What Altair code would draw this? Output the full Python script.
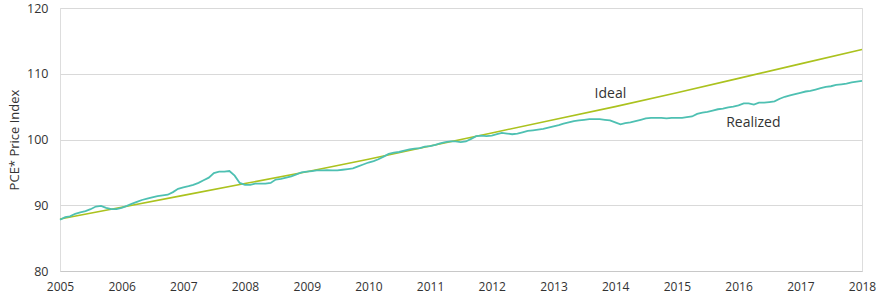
import altair as alt
import pandas as pd

# Realized PCE price index, monthly Jan 2005 .. Jan 2018
realized = [
    87.8, 88.2, 88.3, 88.7, 88.9, 89.1, 89.4, 89.8, 89.9, 89.6, 89.4, 89.4,   # 2005
    89.6, 89.9, 90.2, 90.5, 90.8, 91.0, 91.2, 91.4, 91.5, 91.6, 92.0, 92.5,   # 2006
    92.7, 92.9, 93.1, 93.4, 93.8, 94.2, 94.9, 95.1, 95.1, 95.2, 94.5, 93.4,   # 2007
    93.1, 93.1, 93.3, 93.3, 93.3, 93.4, 93.9, 94.0, 94.2, 94.4, 94.7, 95.0,   # 2008
    95.1, 95.2, 95.3, 95.3, 95.35, 95.3, 95.3, 95.4, 95.5, 95.6, 95.9, 96.2,  # 2009
    96.5, 96.7, 97.0, 97.4, 97.8, 98.0, 98.1, 98.3, 98.5, 98.6, 98.7, 98.9,   # 2010
    99.0, 99.2, 99.4, 99.6, 99.7, 99.7, 99.6, 99.7, 100.1, 100.5, 100.6, 100.5,  # 2011
    100.6, 100.8, 101.0, 100.9, 100.8, 100.9, 101.1, 101.3, 101.4, 101.5, 101.6, 101.8,  # 2012
    102.0, 102.2, 102.4, 102.6, 102.8, 102.9, 103.0, 103.1, 103.1, 103.1, 103.0, 102.9,  # 2013
    102.6, 102.3, 102.5, 102.6, 102.8, 103.0, 103.2, 103.3, 103.3, 103.3, 103.2, 103.3,  # 2014
    103.3, 103.3, 103.4, 103.5, 103.9, 104.1, 104.2, 104.4, 104.6, 104.7, 104.9, 105.0,  # 2015
    105.2, 105.5, 105.5, 105.3, 105.6, 105.6, 105.7, 105.8, 106.2, 106.5, 106.7, 106.9,  # 2016
    107.1, 107.3, 107.4, 107.6, 107.8, 108.0, 108.1, 108.3, 108.4, 108.5, 108.7, 108.8,  # 2017
    108.9,  # Jan 2018
]

# Ideal path (yearly readings, Jan of each year)
ideal_years = [2005, 2006, 2007, 2008, 2009, 2010, 2011, 2012, 2013, 2014, 2015, 2016, 2017, 2018]
ideal = [87.9, 89.7, 91.5, 93.3, 95.1, 97.0, 99.0, 101.0, 103.0, 105.0, 107.1, 109.3, 111.5, 113.7]

labels = ["Ideal", "Realized"]
label_dates = ["2013-09-01", "2015-10-20"]
label_values = [106.9, 102.5]

year_ticks = list(range(2005, 2019))

real_df = pd.DataFrame({
    "date": pd.date_range("2005-01-01", periods=len(realized), freq="MS"),
    "value": realized,
})
ideal_df = pd.DataFrame({
    "date": pd.to_datetime([f"{y}-01-01" for y in ideal_years]),
    "value": ideal,
})
lab_df = pd.DataFrame({"date": pd.to_datetime(label_dates), "value": label_values, "label": labels})

FONT = "Open Sans"

x_enc = alt.X(
    "date:T",
    scale=alt.Scale(type="utc", domain=[pd.Timestamp("2005-01-01").isoformat(), pd.Timestamp("2018-01-01").isoformat()]),
    axis=alt.Axis(
        title=None,
        format="%Y",
        formatType="utc",
        values=[pd.Timestamp(f"{y}-01-01").isoformat() for y in year_ticks],
        grid=False,
        ticks=False,
        domain=True,
        domainColor="#c8c8c8",
        labelFlush=False,
        labelPadding=10,
        labelFontSize=12,
        labelColor="#333333",
        labelFont=FONT,
    ),
)
y_enc = alt.Y(
    "value:Q",
    scale=alt.Scale(domain=[80, 120], nice=False, zero=False),
    axis=alt.Axis(
        title="PCE* Price Index",
        values=[80, 90, 100, 110, 120],
        domain=False,
        ticks=False,
        grid=True,
        gridColor="#d9d9d9",
        labelPadding=12,
        labelFontSize=12.5,
        labelColor="#333333",
        labelFont=FONT,
        titleFont=FONT,
        titleFontSize=13,
        titleFontWeight="normal",
        titleColor="#333333",
        titlePadding=5,
    ),
)

ideal_line = alt.Chart(ideal_df).mark_line(color="#abc21e", strokeWidth=1.6).encode(x=x_enc, y=y_enc)
real_line = alt.Chart(real_df).mark_line(color="#4ec0b2", strokeWidth=1.8).encode(
    x=alt.X("date:T"), y=alt.Y("value:Q"))
text = alt.Chart(lab_df).mark_text(align="left", baseline="middle", font=FONT, fontSize=14, color="#333333").encode(
    x=alt.X("date:T"), y=alt.Y("value:Q"), text="label:N")

chart = alt.layer(ideal_line, real_line, text).properties(
    width=802, height=263,
    autosize=alt.AutoSizeParams(type="none"),
    padding={"left": 60, "top": 8, "right": 18, "bottom": 26},
).configure_view(stroke=None).configure(background="white")

chart.save("out.html", embed_options={"renderer": "svg", "actions": False})
